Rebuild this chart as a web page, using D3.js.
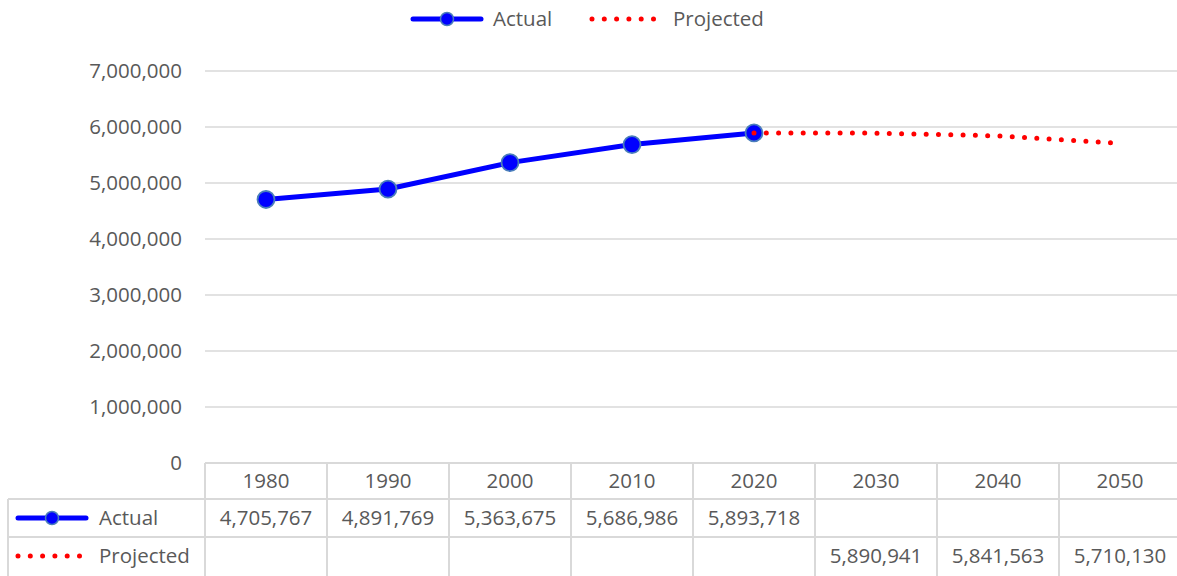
<!DOCTYPE html>
<meta charset="utf-8">
<html>
<head>
<script src="https://d3js.org/d3.v7.min.js"></script>
<style>
  body { margin: 0; background: #fff; }
  text { font-family: "Open Sans", sans-serif; fill: #595959; }
</style>
</head>
<body>
<div id="viz"></div>
<script>
// chart data
const years = ["1980", "1990", "2000", "2010", "2020", "2030", "2040", "2050"];
const actual = [4705767, 4891769, 5363675, 5686986, 5893718, null, null, null];
const projected = [null, null, null, null, null, 5890941, 5841563, 5710130];
const yTicks = [0, 1000000, 2000000, 3000000, 4000000, 5000000, 6000000, 7000000];

const W = 1177, H = 576;
const plotLeft = 205, plotRight = 1181, plotTop = 71, plotBottom = 463;
const grid = "#d9d9d9", fontSize = 20.5;
const blue = "#0000ff", red = "#ff0000";

const svg = d3.select("#viz").append("svg")
  .attr("width", W).attr("height", H);

const x = d3.scaleBand().domain(years).range([plotLeft, plotRight]);
const y = d3.scaleLinear().domain([0, 7000000]).range([plotBottom, plotTop]);
const cx = d => x(d) + x.bandwidth() / 2;
const fmt = d3.format(",");

// gridlines
svg.append("g").selectAll("line").data(yTicks.slice(1)).join("line")
  .attr("x1", plotLeft).attr("x2", plotRight)
  .attr("y1", d => y(d)).attr("y2", d => y(d))
  .attr("stroke", grid).attr("stroke-width", 1.3);

// y axis labels
svg.append("g").selectAll("text").data(yTicks).join("text")
  .attr("x", 182).attr("y", d => y(d)).attr("dy", "0.35em")
  .attr("text-anchor", "end").style("font-size", fontSize + "px")
  .text(d => fmt(d));

// data table
const rowY = [plotBottom, 499, 537, 577];
const tbl = svg.append("g").attr("stroke", grid).attr("stroke-width", 2);
tbl.append("line").attr("x1", plotLeft).attr("x2", plotRight).attr("y1", rowY[0]).attr("y2", rowY[0]);
rowY.slice(1).forEach(r => tbl.append("line").attr("x1", 8).attr("x2", plotRight).attr("y1", r).attr("y2", r));
tbl.append("line").attr("x1", 8).attr("x2", 8).attr("y1", rowY[1]).attr("y2", H);
tbl.selectAll(".v").data(years.concat(["end"])).join("line")
  .attr("x1", (d, i) => plotLeft + i * x.bandwidth()).attr("x2", (d, i) => plotLeft + i * x.bandwidth())
  .attr("y1", plotBottom).attr("y2", H);

svg.append("g").selectAll("text").data(years).join("text")
  .attr("x", d => cx(d)).attr("y", 481).attr("dy", "0.35em")
  .attr("text-anchor", "middle").style("font-size", fontSize + "px").text(d => d);
svg.append("g").selectAll("text").data(years.filter((d, i) => actual[i] != null)).join("text")
  .attr("x", d => cx(d)).attr("y", 518).attr("dy", "0.35em")
  .attr("text-anchor", "middle").style("font-size", fontSize + "px")
  .text(d => fmt(actual[years.indexOf(d)]));
svg.append("g").selectAll("text").data(years.filter((d, i) => projected[i] != null)).join("text")
  .attr("x", d => cx(d)).attr("y", 556).attr("dy", "0.35em")
  .attr("text-anchor", "middle").style("font-size", fontSize + "px")
  .text(d => fmt(projected[years.indexOf(d)]));

// lines
const actualPts = years.map((d, i) => [d, actual[i]]).filter(p => p[1] != null);
const lastActual = actualPts[actualPts.length - 1];
const projPts = [lastActual].concat(years.map((d, i) => [d, projected[i]]).filter(p => p[1] != null));
const line = d3.line().x(p => cx(p[0])).y(p => y(p[1]));

svg.append("path").datum(actualPts).attr("d", line)
  .attr("fill", "none").attr("stroke", blue).attr("stroke-width", 5)
  .attr("stroke-linejoin", "round");
svg.append("g").selectAll("circle").data(actualPts).join("circle")
  .attr("cx", p => cx(p[0])).attr("cy", p => y(p[1])).attr("r", 8.5)
  .attr("fill", blue).attr("stroke", "#4a7ebb").attr("stroke-width", 1.8);
svg.append("path").datum(projPts).attr("d", line)
  .attr("fill", "none").attr("stroke", red).attr("stroke-width", 5)
  .attr("stroke-dasharray", "0 12.3").attr("stroke-linecap", "round");

// legend keys
function blueKey(g, x0, x1, yy) {
  g.append("line").attr("x1", x0).attr("x2", x1).attr("y1", yy).attr("y2", yy)
    .attr("stroke", blue).attr("stroke-width", 5).attr("stroke-linecap", "round");
  g.append("circle").attr("cx", (x0 + x1) / 2).attr("cy", yy).attr("r", 6.5)
    .attr("fill", blue).attr("stroke", "#4a7ebb").attr("stroke-width", 1.5);
}
function redKey(g, x0, x1, yy) {
  g.append("line").attr("x1", x0).attr("x2", x1).attr("y1", yy).attr("y2", yy)
    .attr("stroke", red).attr("stroke-width", 5).attr("stroke-linecap", "round")
    .attr("stroke-dasharray", "0 12.3");
}
const lg = svg.append("g");
blueKey(lg, 413, 481, 19);
lg.append("text").attr("x", 493).attr("y", 19).attr("dy", "0.35em").style("font-size", fontSize + "px").text("Actual");
redKey(lg, 592, 654, 19);
lg.append("text").attr("x", 673).attr("y", 19).attr("dy", "0.35em").style("font-size", fontSize + "px").text("Projected");

blueKey(lg, 18, 86, 518);
lg.append("text").attr("x", 99).attr("y", 518).attr("dy", "0.35em").style("font-size", fontSize + "px").text("Actual");
redKey(lg, 18, 80, 556);
lg.append("text").attr("x", 99).attr("y", 556).attr("dy", "0.35em").style("font-size", fontSize + "px").text("Projected");
</script>
</body>
</html>
